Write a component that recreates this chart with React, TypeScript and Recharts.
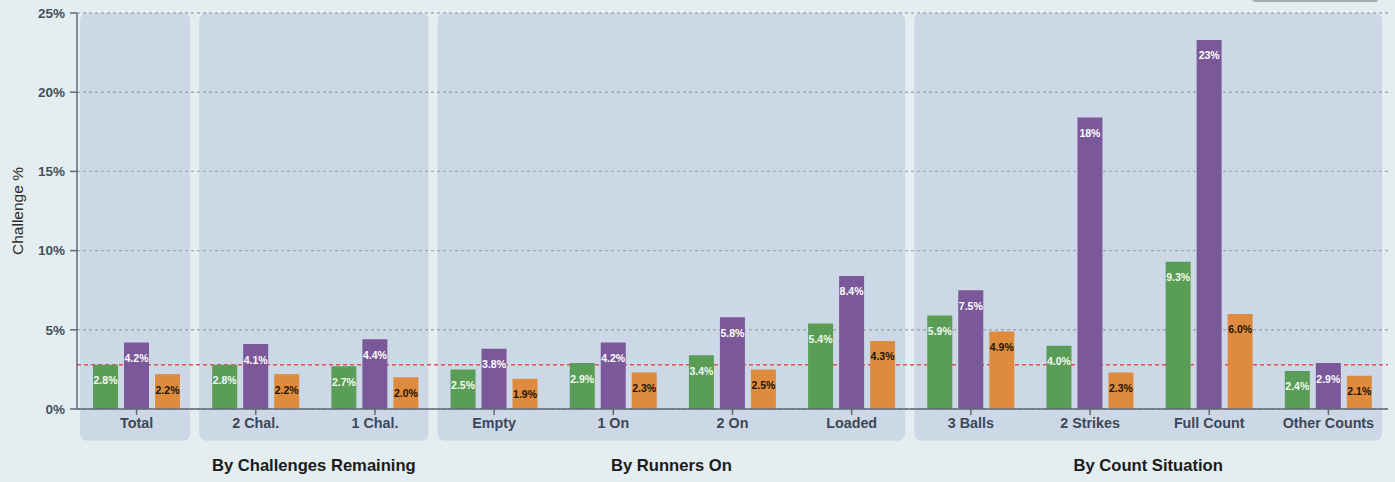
import React from "react";
import {
  BarChart,
  Bar,
  XAxis,
  YAxis,
  CartesianGrid,
  ReferenceLine,
  ReferenceArea,
  LabelList,
} from "recharts";

const categories = [
  "Total",
  "2 Chal.",
  "1 Chal.",
  "Empty",
  "1 On",
  "2 On",
  "Loaded",
  "3 Balls",
  "2 Strikes",
  "Full Count",
  "Other Counts",
];
const greenValues = [2.8, 2.8, 2.7, 2.5, 2.9, 3.4, 5.4, 5.9, 4.0, 9.3, 2.4];
const purpleValues = [4.2, 4.1, 4.4, 3.8, 4.2, 5.8, 8.4, 7.5, 18.4, 23.3, 2.9];
const orangeValues = [2.2, 2.2, 2.0, 1.9, 2.3, 2.5, 4.3, 4.9, 2.3, 6.0, 2.1];
const yTicks = [0, 5, 10, 15, 20, 25];
const averageLine = 2.8;

const groups = [
  { label: "", first: "Total", last: "Total" },
  { label: "By Challenges Remaining", first: "2 Chal.", last: "1 Chal." },
  { label: "By Runners On", first: "Empty", last: "Loaded" },
  { label: "By Count Situation", first: "3 Balls", last: "Other Counts" },
];

const data = categories.map((name, i) => ({
  name,
  green: greenValues[i],
  purple: purpleValues[i],
  orange: orangeValues[i],
}));

const FONT = "'Liberation Sans', Arial, sans-serif";
const AXIS = "#5f6a76";

const fmt = (v: any) => {
  const n = Number(v);
  return n >= 10 ? `${Math.round(n)}%` : `${n.toFixed(1)}%`;
};

const Panel = (p: any) => (
  <rect
    x={p.x + 3}
    y={p.y}
    width={Math.max(0, p.width - 9)}
    height={p.height}
    rx={7}
    ry={7}
    fill="#cdd8e7"
  />
);

export default function App() {
  return (
    <div
      style={{
        position: "fixed",
        left: 0,
        top: 0,
        width: 1395,
        height: 482,
        background: "#e4eef1",
        overflow: "hidden",
        fontFamily: FONT,
      }}
    >
      <div
        style={{
          position: "absolute",
          left: 1252,
          top: -20,
          width: 126,
          height: 22,
          boxSizing: "border-box",
          border: "2px solid #a9abad",
          borderRadius: 3,
        }}
      />
      <BarChart
        width={1395}
        height={482}
        data={data}
        margin={{ top: 13, right: 7, left: 0, bottom: 43 }}
        barSize={25}
        barGap={6}
        style={{ fontFamily: FONT }}
      >
        {groups.map((g) => (
          <ReferenceArea
            key={g.first}
            x1={g.first}
            x2={g.last}
            y1={-2}
            y2={25}
            ifOverflow="visible"
            shape={Panel}
            zIndex={-150}
            label={
              g.label
                ? {
                    content: (props: any) => {
                      const vb = props.viewBox || {};
                      return (
                        <text
                          x={vb.x + vb.width / 2 - 1.5}
                          y={vb.y + vb.height + 30.5}
                          textAnchor="middle"
                          fontSize={16.6}
                          fontWeight="bold"
                          fill="#1b1b1b"
                          fontFamily={FONT}
                        >
                          {g.label}
                        </text>
                      );
                    },
                  }
                : undefined
            }
          />
        ))}
        <CartesianGrid
          vertical={false}
          stroke="#a2a9b2"
          strokeDasharray="3 3"
          strokeWidth={1.4}
        />
        <ReferenceLine
          y={averageLine}
          stroke="#e2504f"
          strokeDasharray="4 3"
          strokeWidth={1.5}
          zIndex={-50}
        />
        <XAxis
          dataKey="name"
          height={30}
          interval={0}
          stroke={AXIS}
          strokeWidth={1.5}
          tickSize={6}
          tickMargin={3}
          tick={{ fill: "#3c4756", fontSize: 14.3, fontWeight: "bold" }}
        />
        <YAxis
          width={77}
          domain={[0, 25]}
          ticks={yTicks}
          interval={0}
          stroke={AXIS}
          strokeWidth={1.5}
          tickSize={7}
          tickMargin={5}
          tickFormatter={(v: number) => `${v}%`}
          tick={{ fill: "#46505b", fontSize: 13.5, fontWeight: "bold" }}
          label={{
            content: (props: any) => {
              const vb = props.viewBox || {};
              const cx = (vb.x || 0) + 17;
              const cy = (vb.y || 0) + (vb.height || 0) / 2;
              return (
                <text
                  x={cx}
                  y={cy}
                  transform={`rotate(-90 ${cx} ${cy})`}
                  textAnchor="middle"
                  dominantBaseline="central"
                  fontSize={15.5}
                  fill="#2c2c2c"
                  fontFamily={FONT}
                >
                  Challenge %
                </text>
              );
            },
          }}
        />
        <Bar dataKey="green" name="Green" fill="#5a9d57" isAnimationActive={false}>
          <LabelList
            dataKey="green"
            position="insideTop"
            offset={12}
            formatter={fmt}
            fill="#f2fbf0"
            fontSize={10.5}
            fontWeight="bold"
          />
        </Bar>
        <Bar dataKey="purple" name="Purple" fill="#7b5899" isAnimationActive={false}>
          <LabelList
            dataKey="purple"
            position="insideTop"
            offset={12}
            formatter={fmt}
            fill="#ffffff"
            fontSize={10.5}
            fontWeight="bold"
          />
        </Bar>
        <Bar dataKey="orange" name="Orange" fill="#de8b3e" isAnimationActive={false}>
          <LabelList
            dataKey="orange"
            position="insideTop"
            offset={12}
            formatter={fmt}
            fill="#1e1408"
            fontSize={10.5}
            fontWeight="bold"
          />
        </Bar>
      </BarChart>
    </div>
  );
}
